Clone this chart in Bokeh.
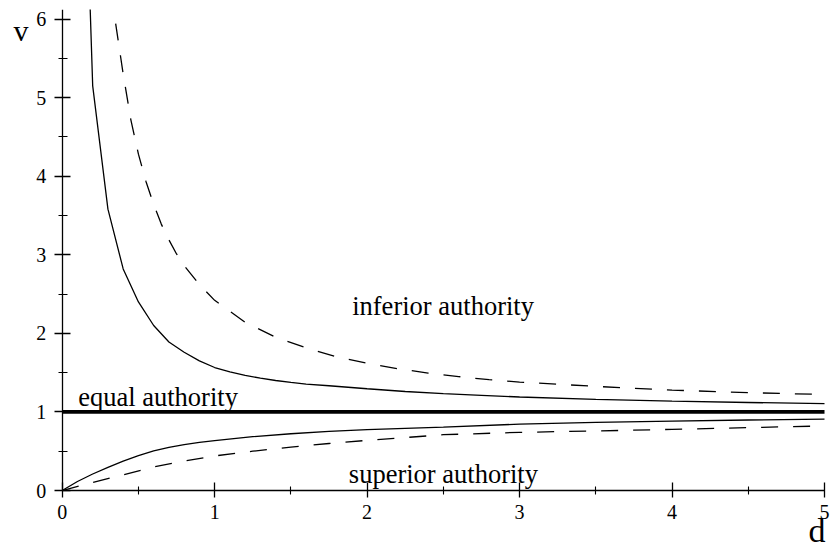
from bokeh.plotting import figure
from bokeh.models import Range1d, FixedTicker, ColumnDataSource
from bokeh.core.properties import value
from bokeh.embed import file_html
from bokeh.resources import INLINE

# ---- data ----
d_up_solid = [0.1, 0.2, 0.3, 0.4, 0.5, 0.6, 0.7, 0.8, 0.9, 1.0, 1.1, 1.2, 1.3, 1.4, 1.5, 1.6, 1.75,
              2.0, 2.25, 2.5, 2.75, 3.0, 3.5, 4.0, 4.5, 5.0]
v_up_solid = [11.1, 5.15, 3.58, 2.82, 2.40, 2.10, 1.89, 1.76, 1.65, 1.565, 1.51, 1.465, 1.43, 1.40, 1.375, 1.355, 1.333,
              1.295, 1.26, 1.232, 1.21, 1.19, 1.16, 1.138, 1.12, 1.105]

d_up_dash = [0.3, 0.35, 0.4, 0.45, 0.5, 0.55, 0.6, 0.65, 0.7, 0.75, 0.8, 0.9, 1.0, 1.2, 1.4, 1.6, 1.8,
             2.0, 2.2, 2.4, 2.6, 2.8, 3.0, 3.5, 4.0, 4.5, 5.0]
v_up_dash = [6.75, 5.95, 5.30, 4.72, 4.28, 3.93, 3.64, 3.39, 3.19, 3.01, 2.86, 2.62, 2.42, 2.14, 1.95, 1.815, 1.70,
             1.62, 1.55, 1.495, 1.45, 1.41, 1.38, 1.325, 1.278, 1.245, 1.222]

d_lo_solid = [0.0, 0.1, 0.2, 0.3, 0.4, 0.5, 0.6, 0.7, 0.8, 0.9, 1.0, 1.25, 1.5, 1.75, 2.0, 2.5, 3.0, 3.5, 4.0, 4.5, 5.0]
v_lo_solid = [0.0, 0.115, 0.21, 0.295, 0.375, 0.445, 0.505, 0.55, 0.585, 0.612, 0.635, 0.685, 0.722, 0.752, 0.775,
              0.806, 0.845, 0.868, 0.884, 0.897, 0.908]

d_lo_dash = [0.0, 0.2, 0.4, 0.6, 0.8, 1.0, 1.25, 1.5, 1.75, 2.0, 2.5, 3.0, 3.5, 4.0, 4.5, 5.0]
v_lo_dash = [0.0, 0.102, 0.20, 0.30, 0.375, 0.44, 0.50, 0.552, 0.598, 0.638, 0.71, 0.74, 0.758, 0.778, 0.80, 0.822]

d_equal = [0.0, 5.0]
v_equal = [1.0, 1.0]

x_ticks = [0, 1, 2, 3, 4, 5]
x_minor = [0.5, 1.5, 2.5, 3.5, 4.5]
y_ticks = [0, 1, 2, 3, 4, 5, 6]
y_minor = [0.5, 1.5, 2.5, 3.5, 4.5, 5.5]

region_texts = ["equal authority", "inferior authority", "superior authority"]
region_x = [0.105, 1.902, 1.880]
region_y = [1.094, 2.249, 0.106]

axis_name_v = ["v"]
axis_name_v_x = [-0.319]
axis_name_v_y = [5.739]
axis_name_d = ["d"]
axis_name_d_x = [4.895]
axis_name_d_y = [-0.64]

FONT = "Liberation Serif"

p = figure(width=831, height=548, output_backend="svg", toolbar_location=None,
           x_range=Range1d(-0.4047, 5.0459), y_range=Range1d(-0.738, 6.121),
           min_border_left=0, min_border_right=0, min_border_top=9, min_border_bottom=0)
p.outline_line_color = None
p.grid.visible = False
p.background_fill_color = "white"
p.border_fill_color = "white"

# curves
p.line(d_up_solid, v_up_solid, line_color="black", line_width=1.3)
p.line(d_up_dash, v_up_dash, line_color="black", line_width=1.3, line_dash="17 15")
p.line(d_lo_solid, v_lo_solid, line_color="black", line_width=1.3)
p.line(d_lo_dash, v_lo_dash, line_color="black", line_width=1.3, line_dash="17 15")
p.line(d_equal, v_equal, line_color="black", line_width=3.8)

# region labels
src = ColumnDataSource(dict(x=region_x, y=region_y, t=region_texts))
p.text(x="x", y="y", text="t", source=src, text_font=value(FONT), text_font_size=value("26.5px"),
       text_align="left", text_baseline="alphabetic", text_color="black", y_offset=-8)

# axis names
p.text(x=axis_name_v_x, y=axis_name_v_y, text=axis_name_v, text_font=value(FONT),
       text_font_size=value("30px"), text_align="left", text_baseline="alphabetic",
       text_color="black", y_offset=-9)
p.text(x=axis_name_d_x, y=axis_name_d_y, text=axis_name_d, text_font=value(FONT),
       text_font_size=value("34px"), text_align="left", text_baseline="alphabetic",
       text_color="black", y_offset=-10)

# axes crossing at the origin
p.xaxis.fixed_location = 0
p.yaxis.fixed_location = 0
p.xaxis.bounds = (0, 5)
p.yaxis.bounds = (0, 6.12)

for ax, maj, mnr in ((p.xaxis[0], x_ticks, x_minor), (p.yaxis[0], y_ticks, y_minor)):
    ax.ticker = FixedTicker(ticks=maj, minor_ticks=mnr)
    ax.axis_line_color = "black"
    ax.axis_line_width = 1.3
    ax.major_tick_line_color = "black"
    ax.major_tick_line_width = 1.3
    ax.minor_tick_line_color = "black"
    ax.minor_tick_line_width = 1.1
    ax.major_label_text_font = FONT
    ax.major_label_text_font_size = "20px"
    ax.major_label_text_color = "black"

p.xaxis.major_tick_in = 8
p.xaxis.major_tick_out = 7
p.xaxis.minor_tick_in = 4
p.xaxis.minor_tick_out = 4
p.xaxis.major_label_standoff = 7

p.yaxis.major_tick_in = 8
p.yaxis.major_tick_out = 8
p.yaxis.minor_tick_in = 5
p.yaxis.minor_tick_out = 4
p.yaxis.major_label_standoff = 8

open("out.html", "w").write(file_html(p, INLINE))
